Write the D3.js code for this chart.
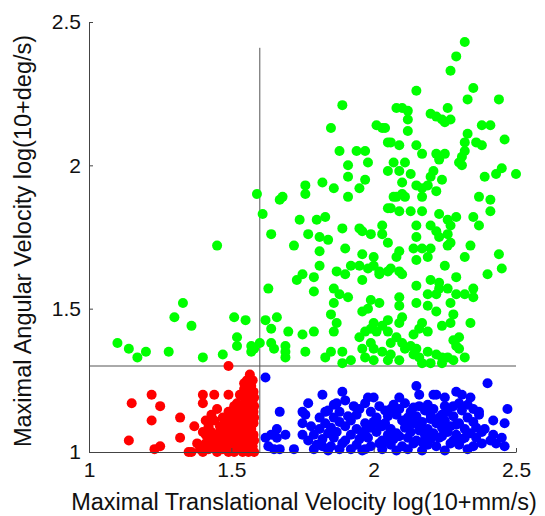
<!DOCTYPE html>
<meta charset="utf-8">
<style>
body { margin: 0; background: #fff; }
.axis path, .axis line { stroke: #444; stroke-width: 1px; }
.axis text { font: 21px "Liberation Sans", Arial, sans-serif; fill: #111; }
.label { font: 23.5px "Liberation Sans", Arial, sans-serif; fill: #111; }
.guide { stroke: #555; stroke-width: 1px; }
</style>
<body>
<script src="https://d3js.org/d3.v7.min.js"></script>
<script>

// tick values for both axes
var xTicks = [1, 1.5, 2, 2.5];
var yTicks = [1, 1.5, 2, 2.5];

// threshold lines
var xThreshold = 1.6, xThresholdTop = 2.41;
var yThreshold = 1.3;

// green: high angular velocity (above 1.3)
var greenPts = [
  [1.89,2.21],[1.85,2.13],[2.01,2.14],[2.03,2.13],[2.04,2.13],[1.88,2.05],[1.94,2.05],[1.97,2.05],
  [1.98,2.01],[1.91,2.00],[1.91,1.96],[1.97,1.95],[1.82,1.94],[1.86,1.92],[1.95,1.92],[1.76,1.93],
  [1.76,1.90],[1.68,1.89],[1.59,1.90],[1.91,1.89],[2.05,2.08],[2.05,1.98],[1.67,1.88],[1.61,1.83],
  [1.64,1.76],[1.45,1.72],
  [2.32,2.43],[2.29,2.38],[2.27,2.33],[2.15,2.26],[2.35,2.27],[2.33,2.23],[2.44,2.23],[2.08,2.20],
  [2.10,2.20],[2.12,2.19],[2.26,2.20],[2.20,2.18],[2.22,2.17],[2.24,2.16],[2.25,2.15],[2.27,2.16],
  [2.12,2.16],[2.12,2.12],[2.06,2.08],[2.09,2.07],[2.15,2.07],[2.33,2.11],[2.32,2.08],[2.38,2.14],
  [2.41,2.14],[2.36,2.08],[2.38,2.07],[2.46,2.09],[2.32,2.05],[2.31,2.03],[2.30,2.01],[2.31,2.00],
  [2.17,2.04],[2.22,2.04],[2.23,2.02],[2.25,2.04],[2.07,2.01],[2.11,2.01],[2.09,1.98],[2.13,1.97],
  [2.10,1.94],[2.20,1.96],[2.21,1.98],[2.24,1.95],[2.39,1.96],[2.43,1.97],[2.45,1.99],[2.50,1.97],
  [2.15,1.93],[2.17,1.92],[2.19,1.93],[2.22,1.91],[2.07,1.89],[2.10,1.90],[2.37,1.89],[2.41,1.88],
  [1.74,1.81],[1.80,1.81],[1.83,1.82],[1.77,1.76],[1.81,1.75],[1.84,1.74],[1.89,1.78],[1.95,1.78],
  [1.96,1.77],[1.99,1.76],[2.03,1.79],[2.03,1.76],[1.72,1.72],[1.81,1.70],[1.90,1.71],[1.96,1.69],
  [2.00,1.68],[1.81,1.65],[1.87,1.63],[1.90,1.62],[1.92,1.65],[1.95,1.65],[1.98,1.64],[2.00,1.65],
  [2.02,1.63],[2.02,1.62],[1.75,1.62],[1.73,1.60],[1.79,1.61],[1.96,1.60],[1.63,1.57],[1.79,1.56],
  [1.86,1.57],[1.88,1.55],[1.91,1.54],[1.86,1.52],[1.99,1.53],[2.02,1.52],[1.96,1.49],[1.98,1.50],
  [1.85,1.48],[1.62,1.46],[1.66,1.47],[1.64,1.43],[1.87,1.45],[2.00,1.45],[2.03,1.44],[1.99,1.43],
  [1.97,1.42],[2.01,1.42],[1.70,1.42],[1.75,1.41],[1.79,1.42],[1.86,1.42],[1.60,1.38],[1.64,1.38],
  [1.69,1.37],[1.69,1.35],[1.69,1.33],[1.65,1.36],[1.76,1.35],[1.95,1.40],[1.99,1.38],[1.96,1.36],
  [2.00,1.36],[2.03,1.35],[1.83,1.33],[1.85,1.35],[1.89,1.35],[1.89,1.31],[1.92,1.32],[1.97,1.33],
  [2.00,1.32],[2.05,1.85],[2.05,1.73],[2.05,1.63],
  [2.08,1.89],[2.11,1.89],[2.06,1.85],[2.09,1.84],[2.17,1.89],[2.41,1.84],[2.13,1.84],[2.17,1.84],
  [2.23,1.83],[2.26,1.81],[2.29,1.82],[2.27,1.79],[2.35,1.82],[2.37,1.79],[2.15,1.79],[2.20,1.79],
  [2.22,1.77],[2.23,1.75],[2.26,1.76],[2.27,1.73],[2.26,1.72],[2.15,1.75],[2.14,1.71],[2.17,1.71],
  [2.20,1.71],[2.15,1.67],[2.19,1.68],[2.34,1.72],[2.32,1.68],[2.09,1.70],[2.08,1.68],[2.06,1.64],
  [2.09,1.63],[2.10,1.62],[2.25,1.65],[2.29,1.61],[2.44,1.69],[2.45,1.64],[2.40,1.62],[2.15,1.58],
  [2.20,1.60],[2.23,1.59],[2.23,1.57],[2.22,1.55],[2.19,1.55],[2.26,1.57],[2.29,1.55],[2.32,1.55],
  [2.35,1.57],[2.35,1.54],[2.09,1.54],[2.09,1.51],[2.15,1.52],[2.19,1.51],[2.22,1.49],[2.27,1.52],
  [2.28,1.48],[2.10,1.47],[2.09,1.45],[2.05,1.46],[2.17,1.45],[2.16,1.43],[2.14,1.41],[2.19,1.42],
  [2.24,1.44],[2.27,1.45],[2.34,1.45],[2.05,1.42],[2.06,1.38],[2.08,1.40],[2.10,1.38],[2.11,1.36],
  [2.13,1.37],[2.15,1.36],[2.14,1.34],[2.16,1.33],[2.19,1.35],[2.22,1.34],[2.24,1.33],[2.26,1.33],
  [2.28,1.39],[2.30,1.40],[2.29,1.37],[2.30,1.36],[2.32,1.33],[2.28,1.32],[2.06,1.34],[2.09,1.32],
  [2.05,1.32],[2.17,1.31],[2.20,1.31],[2.24,1.31],
  [1.33,1.52],[1.30,1.47],[1.36,1.44],[1.51,1.47],[1.55,1.46],[1.52,1.40],[1.52,1.37],[1.57,1.37],
  [1.58,1.36],[1.57,1.35],[1.10,1.38],[1.14,1.36],[1.17,1.33],[1.20,1.35],[1.28,1.35],[1.40,1.33],
  [1.47,1.34]
];

// red: low translational and low angular velocity
var redPts = [
  [1.49,1.30],[1.22,1.20],[1.15,1.17],[1.25,1.16],[1.22,1.11],[1.14,1.04],[1.23,1.01],[1.25,1.02],
  [1.32,1.12],[1.32,1.05],[1.35,1.00],[1.36,1.00],[1.37,1.09],[1.40,1.07],[1.41,1.11],[1.40,1.20],
  [1.40,1.17],[1.44,1.20],[1.49,1.20],[1.45,1.15],[1.43,1.13],[1.44,1.11],[1.42,1.09],[1.51,1.16],
  [1.50,1.12],
  [1.565,1.27],[1.555,1.25],[1.575,1.25],[1.55,1.23],[1.57,1.23],[1.56,1.21],[1.578,1.21],[1.545,1.19],
  [1.565,1.19],[1.575,1.18],[1.55,1.17],[1.57,1.16],[1.54,1.15],[1.56,1.15],[1.578,1.14],[1.535,1.13],
  [1.555,1.13],[1.57,1.12],[1.52,1.11],[1.545,1.11],[1.565,1.10],[1.578,1.10],[1.53,1.09],[1.55,1.09],
  [1.57,1.08],[1.51,1.08],[1.49,1.07],[1.535,1.07],[1.56,1.06],[1.578,1.06],[1.50,1.05],[1.52,1.05],
  [1.545,1.04],[1.565,1.04],[1.48,1.04],[1.46,1.03],[1.505,1.03],[1.53,1.02],[1.555,1.02],[1.575,1.02],
  [1.44,1.02],[1.42,1.01],[1.47,1.01],[1.49,1.00],[1.51,1.00],[1.54,1.00],[1.56,1.00],[1.58,1.00],
  [1.45,1.00],[1.43,1.04],[1.41,1.03],[1.39,1.01],[1.40,1.00],[1.47,1.06],[1.46,1.09],[1.48,1.10],
  [1.495,1.12],[1.51,1.14],[1.52,1.17],[1.53,1.20],[1.545,1.22],[1.58,1.19],[1.58,1.16],[1.58,1.12],
  [1.58,1.04],[1.49,1.02],[1.515,1.07],[1.44,1.06],[1.50,1.09],[1.525,1.13],[1.54,1.06],[1.555,1.08],
  [1.535,1.04],[1.57,1.20],[1.43,1.07],[1.46,1.05],[1.52,1.02],[1.55,1.05],[1.48,1.08],[1.53,1.15],
  [1.47,1.12],[1.49,1.14],[1.51,1.10],[1.46,1.07],[1.52,1.08],[1.54,1.12],[1.56,1.17],[1.545,1.24],
  [1.42,1.05],[1.45,1.03],[1.38,1.03],[1.41,1.06],[1.50,1.01],[1.53,1.11],[1.56,1.13],[1.57,1.05]
];

// blue: high translational, low angular velocity
var bluePts = [
  [1.62,1.26],[1.89,1.21],[1.82,1.20],[1.77,1.17],[1.87,1.17],[1.90,1.18],[1.67,1.14],[1.75,1.14],
  [1.76,1.13],[1.83,1.14],[1.81,1.12],[1.78,1.09],[1.75,1.10],[1.66,1.08],[1.64,1.06],[1.69,1.06],
  [1.66,1.05],[1.62,1.05],[1.75,1.06],[1.65,1.01],[1.72,1.01],[1.79,1.01],[1.82,1.02],[1.88,1.01],
  [1.92,1.01],[1.97,1.01],[2.03,1.01],[2.40,1.24],[2.47,1.15],[2.46,1.10],[2.45,1.05],[2.15,1.23],
  [2.16,1.20],[2.09,1.19],[2.22,1.20],[2.29,1.21],[2.31,1.20],[2.34,1.19],[2.25,1.19],[2.37,1.14],
  [2.39,1.08],[2.41,1.04],[2.38,1.03],[1.98,1.19],[2.00,1.19],[2.21,1.20],[2.25,1.16],[2.30,1.17],
  [2.37,1.13],[2.42,1.11],[2.43,1.03],[2.46,1.02],[1.63,1.02],[1.67,1.01],
  [1.86,1.165],[1.93,1.16],[1.97,1.17],[2.02,1.16],[2.07,1.165],[2.11,1.17],[2.16,1.16],[2.19,1.165],
  [2.28,1.16],[2.33,1.165],
  [1.84,1.145],[1.88,1.14],[1.95,1.15],[1.99,1.14],[2.04,1.145],[2.09,1.15],[2.13,1.14],[2.18,1.145],
  [2.21,1.15],[2.26,1.14],[2.31,1.145],[2.35,1.15],
  [1.86,1.12],[1.91,1.125],[1.94,1.13],[2.01,1.12],[2.05,1.125],[2.08,1.13],[2.12,1.12],[2.15,1.125],
  [2.20,1.13],[2.23,1.12],[2.28,1.125],[2.33,1.12],
  [1.83,1.10],[1.88,1.105],[1.92,1.11],[1.97,1.10],[2.00,1.105],[2.04,1.10],[2.10,1.11],[2.14,1.10],
  [2.17,1.105],[2.22,1.10],[2.25,1.11],[2.30,1.10],[2.35,1.105],
  [1.81,1.08],[1.85,1.085],[1.90,1.09],[1.94,1.08],[1.99,1.085],[2.03,1.09],[2.06,1.08],[2.11,1.085],
  [2.16,1.09],[2.19,1.08],[2.24,1.085],[2.27,1.09],[2.32,1.08],[2.36,1.085],
  [1.79,1.06],[1.84,1.065],[1.87,1.07],[1.92,1.06],[1.96,1.065],[2.01,1.07],[2.05,1.06],[2.08,1.065],
  [2.13,1.07],[2.18,1.06],[2.21,1.065],[2.26,1.07],[2.29,1.06],[2.34,1.065],[2.38,1.07],[2.42,1.06],
  [1.77,1.04],[1.82,1.045],[1.86,1.05],[1.90,1.04],[1.95,1.045],[1.98,1.05],[2.03,1.04],[2.07,1.045],
  [2.12,1.05],[2.15,1.04],[2.20,1.045],[2.23,1.05],[2.28,1.04],[2.31,1.045],[2.36,1.05],
  [1.80,1.025],[1.85,1.02],[1.89,1.03],[1.94,1.025],[1.99,1.02],[2.02,1.03],[2.06,1.025],[2.10,1.02],
  [2.14,1.03],[2.19,1.025],[2.22,1.02],[2.27,1.03],[2.30,1.025],[2.35,1.02],
  [1.84,1.005],[1.96,1.005],[2.08,1.005],[2.12,1.01],[2.17,1.005],[2.25,1.005],[2.33,1.01],
  [2.06,1.15],[2.14,1.155],[2.24,1.13],[2.02,1.095],[2.12,1.095],[2.20,1.115],[2.29,1.095],
  [1.97,1.075],[2.09,1.055],[2.16,1.075],[2.24,1.055],[2.32,1.05],[2.04,1.035],[2.17,1.035]
];

// set the dimensions and margins of the chart
var margin = {top: 22, right: 29, bottom: 64, left: 89},
    width = 545 - margin.left - margin.right,
    height = 516 - margin.top - margin.bottom;

var svg = d3.select("body").append("svg")
    .attr("width", 545)
    .attr("height", 516);

var g = svg.append("g")
    .attr("transform", "translate(" + margin.left + "," + margin.top + ")");

var x = d3.scaleLinear().domain([1, 2.5]).range([0, width]);
var y = d3.scaleLinear().domain([1, 2.5]).range([height, 0]);

// threshold guide lines
g.append("line").attr("class", "guide")
    .attr("x1", x(xThreshold)).attr("x2", x(xThreshold))
    .attr("y1", y(1)).attr("y2", y(xThresholdTop));
g.append("line").attr("class", "guide")
    .attr("x1", x(1)).attr("x2", x(2.5))
    .attr("y1", y(yThreshold)).attr("y2", y(yThreshold));

// draw the three groups of points
function drawDots(pts, color) {
  g.append("g").selectAll("circle")
    .data(pts)
  .enter().append("circle")
    .attr("cx", function(d) { return x(d[0]); })
    .attr("cy", function(d) { return y(d[1]); })
    .attr("r", 5)
    .style("fill", color);
}
drawDots(greenPts, "#00ff00");
drawDots(redPts, "#ff0000");
drawDots(bluePts, "#0000ff");

// axes, ticks pointing inward
g.append("g").attr("class", "axis")
    .attr("transform", "translate(0," + height + ")")
    .call(d3.axisBottom(x).tickValues(xTicks).tickFormat(d3.format(""))
      .tickSizeInner(-4).tickSizeOuter(0).tickPadding(10));

g.append("g").attr("class", "axis")
    .call(d3.axisLeft(y).tickValues(yTicks).tickFormat(d3.format(""))
      .tickSizeInner(-4).tickSizeOuter(0).tickPadding(8));

// axis titles
svg.append("text").attr("class", "label")
    .attr("x", 304).attr("y", 510)
    .style("text-anchor", "middle")
    .text("Maximal Translational Velocity log(10+mm/s)");

svg.append("text").attr("class", "label")
    .attr("transform", "translate(31,241) rotate(-90)")
    .style("text-anchor", "middle")
    .text("Maximal Angular Velocity log(10+deg/s)");

</script>
</body>
